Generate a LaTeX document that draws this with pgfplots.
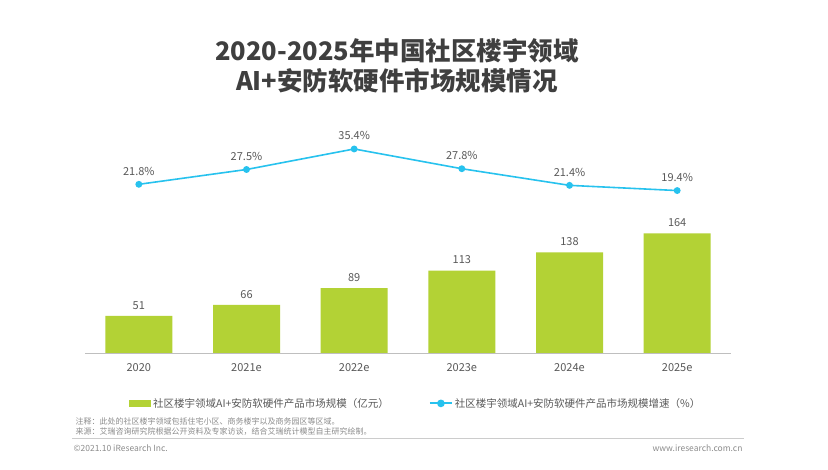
\documentclass[border=0pt]{standalone}
\usepackage{fontspec}
\setmainfont{Noto Sans CJK SC}
\usepackage{pgfplots}
\pgfplotsset{compat=1.18}

\definecolor{barg}{HTML}{B3D235}
\definecolor{linec}{HTML}{27C2EE}
\definecolor{txt}{HTML}{595959}
\definecolor{ttl}{HTML}{3F3F3F}

\pgfplotstableread{
x size rate
0 51  21.8
1 66  27.5
2 89  35.4
3 113 27.8
4 138 21.4
5 164 19.4
}\mkt

\begin{document}
\begin{tikzpicture}
\useasboundingbox (0pt,0pt) rectangle (828pt,470pt);
\fill[white] (0pt,0pt) rectangle (828pt,470pt);

% title
\node[text=ttl, font=\fontsize{25.5}{30}\selectfont\bfseries, align=center] at (397pt,404pt)
  {2020-2025年中国社区楼宇领域\\AI+安防软硬件市场规模情况};

% bars
\begin{axis}[
    at={(85pt,117pt)}, anchor=south west,
    scale only axis, width=646pt, height=146pt,
    xmin=-0.5, xmax=5.5, ymin=0, ymax=200,
    axis y line=none,
    axis x line*=bottom,
    x axis line style={draw=black!25, line width=0.8pt},
    xtick=data,
    xticklabels={2020,2021e,2022e,2023e,2024e,2025e},
    major tick length=0pt,
    tick label style={text=txt, font=\fontsize{11}{13}\selectfont},
    xticklabel style={yshift=-7pt},
    /pgf/number format/assume math mode=true,
    ybar, bar width=67pt,
    clip=false,
    nodes near coords,
    nodes near coords style={text=txt, font=\fontsize{11}{13}\selectfont, yshift=3pt},
]
\addplot[fill=barg, draw=none] table[x=x, y=size] {\mkt};
\end{axis}

% growth line
\begin{axis}[
    at={(85pt,117pt)}, anchor=south west,
    scale only axis, width=646pt, height=223pt,
    xmin=-0.5, xmax=5.5, ymin=-43.1, ymax=42.7,
    axis lines=none,
    clip=false,
    /pgf/number format/assume math mode=true,
    legend columns=2,
    legend style={at={(0.512,-0.226)}, anchor=center, draw=none, fill=none,
        font=\fontsize{10.5}{12}\selectfont, text=txt,
        /tikz/every even column/.append style={column sep=38pt}},
    legend image code/.code={\draw[linec, line width=2pt] (0pt,0pt) -- (22pt,0pt); \fill[linec] (11pt,0pt) circle (3pt);},
]
\addlegendimage{area legend, fill=barg, draw=none, legend image code/.code={\fill[barg] (0pt,-3.5pt) rectangle (22pt,3.5pt);}}
\addlegendentry{社区楼宇领域AI+安防软硬件产品市场规模（亿元）}
\addplot[linec, line width=1.6pt, mark=*, mark size=2.6pt, mark options={fill=linec, draw=linec},
    nodes near coords={\pgfmathprintnumber[fixed,fixed zerofill,precision=1]{\pgfplotspointmeta}\%},
    point meta=explicit,
    nodes near coords style={text=txt, font=\fontsize{11}{13}\selectfont, yshift=5pt}]
    table[x=x, y=rate, meta=rate] {\mkt};
\addlegendentry{社区楼宇领域AI+安防软硬件产品市场规模增速（\%）}
\end{axis}

% notes and footer
\node[anchor=west, text=black!45, font=\fontsize{8}{9}\selectfont] at (72pt,49pt)
  {注释：此处的社区楼宇领域包括住宅小区、商务楼宇以及商务园区等区域。};
\node[anchor=west, text=black!45, font=\fontsize{8}{9}\selectfont] at (72pt,38.5pt)
  {来源：艾瑞咨询研究院根据公开资料及专家访谈，结合艾瑞统计模型自主研究绘制。};
\draw[black!20, line width=1pt] (72pt,31pt) -- (744pt,31pt);
\node[anchor=west, text=black!45, font=\fontsize{8.5}{10}\selectfont] at (70pt,22pt) {©2021.10 iResearch Inc.};
\node[anchor=east, text=black!45, font=\fontsize{8.5}{10}\selectfont] at (746pt,22pt) {www.iresearch.com.cn};
\end{tikzpicture}
\end{document}
